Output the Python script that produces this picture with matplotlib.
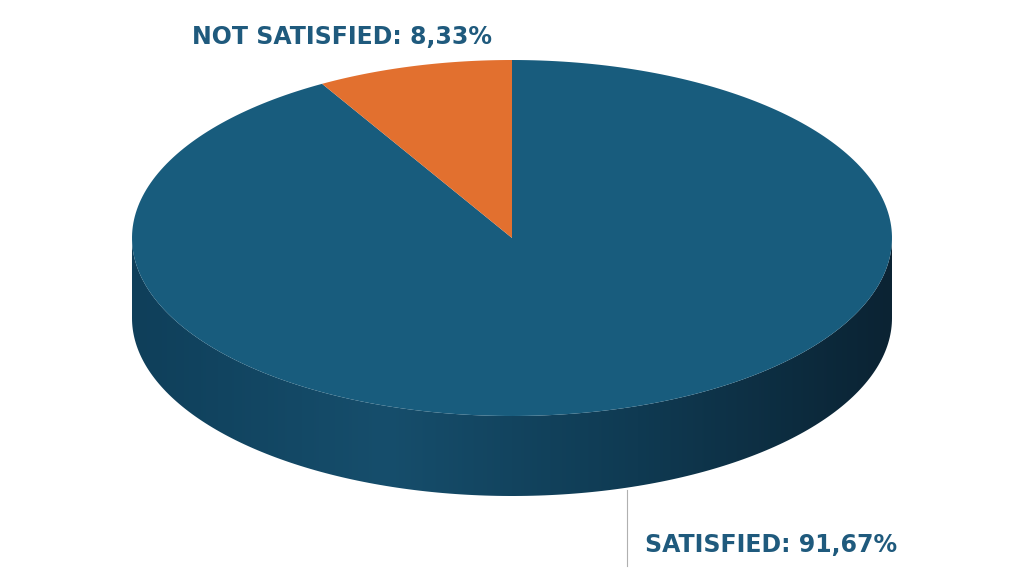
import numpy as np
import matplotlib.pyplot as plt
from matplotlib.patches import Polygon

labels = ["SATISFIED", "NOT SATISFIED"]
values = [91.67, 8.33]
label_text = ["SATISFIED: 91,67%", "NOT SATISFIED: 8,33%"]
colors = ["#185c7d", "#e2702f"]

# geometry in pixel coords
cx, cy, rx, ry, depth = 512, 238, 380, 178, 80


def ell(t, dy=0):
    return cx + rx * np.cos(t), cy - ry * np.sin(t) + dy


fig = plt.figure(figsize=(10.24, 5.79), dpi=100)
ax = fig.add_axes([0, 0, 1, 1])
ax.set_xlim(0, 1024)
ax.set_ylim(579, 0)
ax.axis("off")

# side wall (front half), gradient from left to right
t = np.linspace(np.pi, 2 * np.pi, 200)
xt, yt = ell(t)
xb, yb = ell(t[::-1], depth)
side = Polygon(np.column_stack([np.r_[xt, xb], np.r_[yt, yb]]), closed=True,
               facecolor="none", edgecolor="none")
ax.add_patch(side)
grad = np.linspace(0, 1, 256).reshape(1, -1)
from matplotlib.colors import LinearSegmentedColormap
cmap = LinearSegmentedColormap.from_list("side", ["#0f3f5a", "#164e6c", "#0f3a52", "#0b2333"])
im = ax.imshow(grad, extent=[cx - rx, cx + rx, cy + ry + depth, cy - 5], cmap=cmap,
               aspect="auto", zorder=1)
im.set_clip_path(side)

# top face wedges, starting at 12 o'clock, counterclockwise for the small slice
start = np.pi / 2
fracs = np.array(values) / sum(values)
# orange wedge from 90deg to 90+30deg; blue the rest
bounds = [(start + fracs[1] * 2 * np.pi, start + 2 * np.pi), (start, start + fracs[1] * 2 * np.pi)]
for (a0, a1), c in zip(bounds, colors):
    tt = np.linspace(a0, a1, 300)
    x, y = ell(tt)
    ax.add_patch(Polygon(np.column_stack([np.r_[cx, x], np.r_[cy, y]]), closed=True,
                         facecolor=c, edgecolor="none", zorder=2))

# leader line and labels
font = dict(fontfamily=["Liberation Sans Narrow", "DejaVu Sans"], fontweight="bold",
            color="#1f5a7d", fontsize=17)
ax.plot([627, 627], [490, 566], color="#b0b0b0", lw=0.8, zorder=3)
ax.text(645, 545, label_text[0], va="center", ha="left", **font)
ax.text(192, 37, label_text[1], va="center", ha="left", **font)

fig.savefig("out.png", dpi=100)
